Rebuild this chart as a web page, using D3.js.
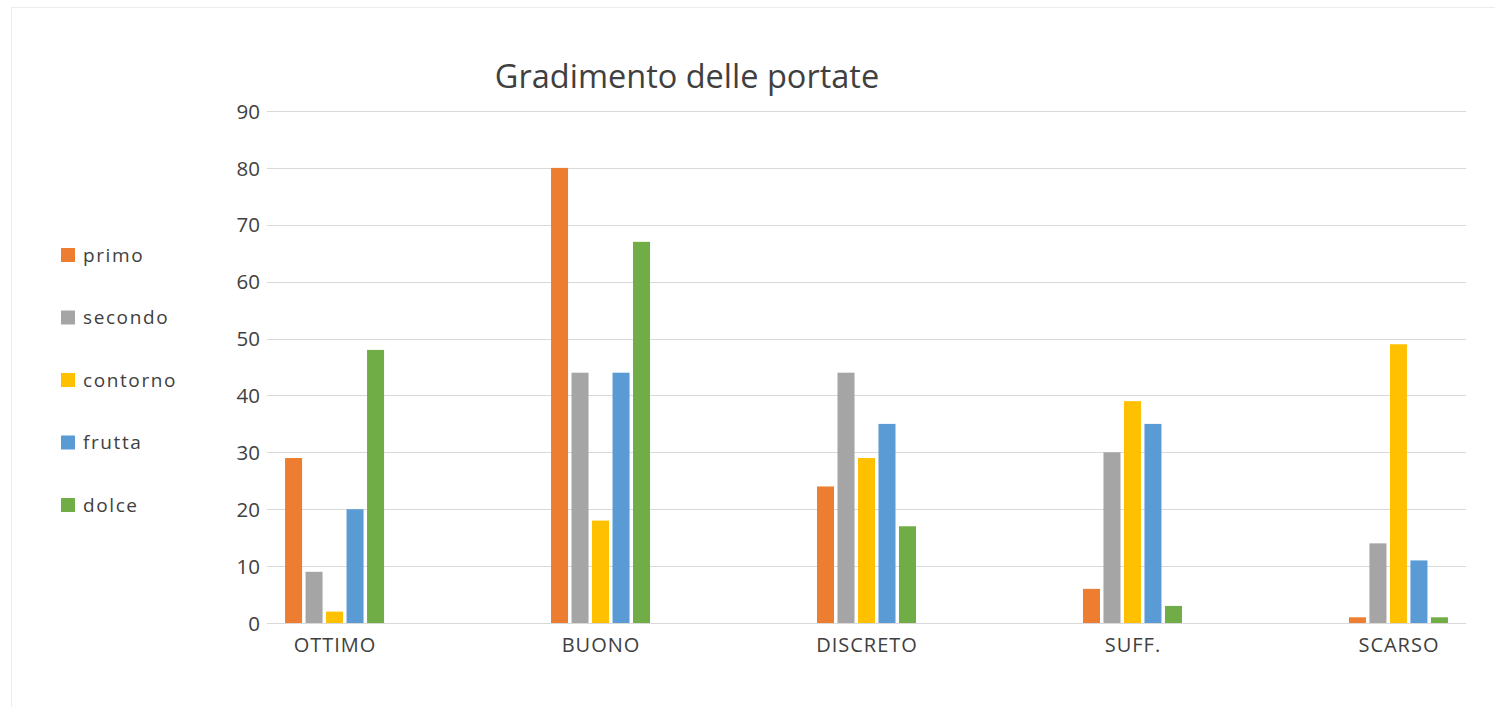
<!DOCTYPE html>
<meta charset="utf-8">
<style>
body { margin: 0; background: #fff; }
svg { font-family: "Open Sans", "DejaVu Sans", sans-serif; }
.tick text { fill: #404040; }
.legend text { fill: #404040; letter-spacing: 1.6px; }
</style>
<svg width="1495" height="707"></svg>
<script src="https://d3js.org/d3.v7.min.js"></script>
<script>

var categories = ["OTTIMO", "BUONO", "DISCRETO", "SUFF.", "SCARSO"];
var series = ["primo", "secondo", "contorno", "frutta", "dolce"];
var colors = ["#ED7D31", "#A5A5A5", "#FFC000", "#5B9BD5", "#70AD47"];

var primo    = [29, 80, 24,  6,  1];
var secondo  = [ 9, 44, 44, 30, 14];
var contorno = [ 2, 18, 29, 39, 49];
var frutta   = [20, 44, 35, 35, 11];
var dolce    = [48, 67, 17,  3,  1];

var yTicks = [0, 10, 20, 30, 40, 50, 60, 70, 80, 90];

var values = [primo, secondo, contorno, frutta, dolce];

var svg = d3.select("svg"),
    plotLeft = 267, plotRight = 1466, plotTop = 111, plotBottom = 623;

// chart frame (right and bottom edges run off the page)
svg.append("rect")
    .attr("x", 11.5).attr("y", 7.5)
    .attr("width", 1500).attr("height", 720)
    .attr("fill", "#fff")
    .attr("stroke", "#ececec");

var x = d3.scalePoint()
    .domain(categories)
    .range([plotLeft, plotRight])
    .padding(0.254);

var x1 = d3.scaleBand()
    .domain(series)
    .range([-49.5, 49.5])
    .paddingInner(0.17);

var y = d3.scaleLinear()
    .domain([0, 90])
    .range([plotBottom, plotTop]);

var color = d3.scaleOrdinal().domain(series).range(colors);

// grid
svg.append("g")
    .selectAll("line")
    .data(yTicks)
    .enter().append("line")
      .attr("x1", plotLeft).attr("x2", plotRight)
      .attr("y1", function(d) { return Math.round(y(d)) + 0.5; })
      .attr("y2", function(d) { return Math.round(y(d)) + 0.5; })
      .attr("stroke", "#d9d9d9")
      .attr("stroke-width", 1);

// y axis labels
var yAxis = svg.append("g")
    .attr("transform", "translate(" + plotLeft + ",0)")
    .call(d3.axisLeft(y).tickValues(yTicks).tickSize(0).tickPadding(7))
    .attr("font-family", null).attr("font-size", null);
yAxis.select(".domain").remove();
yAxis.selectAll("text").attr("font-size", 20.5).attr("dy", "0.35em");

// x axis labels
var xAxis = svg.append("g")
    .attr("transform", "translate(0," + plotBottom + ")")
    .call(d3.axisBottom(x).tickSize(0).tickPadding(15))
    .attr("font-family", null).attr("font-size", null);
xAxis.select(".domain").remove();
xAxis.selectAll("text").attr("font-size", 20).attr("letter-spacing", "1px");

// bars
var groups = svg.append("g")
    .selectAll("g")
    .data(categories)
    .enter().append("g")
      .attr("transform", function(d) { return "translate(" + x(d) + ",0)"; });

groups.selectAll("rect")
    .data(function(d, i) {
      return series.map(function(s, j) { return { key: s, value: values[j][i] }; });
    })
    .enter().append("rect")
      .attr("x", function(d) { return x1(d.key); })
      .attr("width", x1.bandwidth())
      .attr("y", function(d) { return y(d.value); })
      .attr("height", function(d) { return y(0) - y(d.value); })
      .attr("fill", function(d) { return color(d.key); });

// title
svg.append("text")
    .attr("x", 687)
    .attr("y", 88)
    .attr("text-anchor", "middle")
    .attr("font-size", 32.5)
    .attr("fill", "#404040")
    .text("Gradimento delle portate");

// legend
var legend = svg.append("g")
    .attr("class", "legend")
    .selectAll("g")
    .data(series)
    .enter().append("g")
      .attr("transform", function(d, i) { return "translate(61," + (255 + i * 62.5) + ")"; });

legend.append("rect")
    .attr("x", 0).attr("y", -7)
    .attr("width", 14).attr("height", 14)
    .attr("fill", function(d) { return color(d); });

legend.append("text")
    .attr("x", 22)
    .attr("dy", "0.35em")
    .attr("font-size", 19)
    .text(function(d) { return d; });

</script>
